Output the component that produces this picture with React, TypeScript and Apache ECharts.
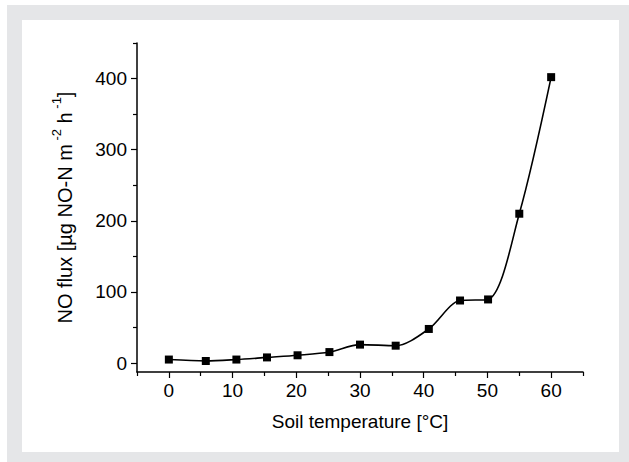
import React, { useEffect, useRef } from "react";
import * as echarts from "echarts";

// Soil temperature (°C) and NO flux (µg NO-N m^-2 h^-1)
const temperature = [0, 5.8, 10.6, 15.4, 20.2, 25.2, 30.0, 35.6, 40.8, 45.7, 50.1, 55.0, 60.0];
const noFlux = [5, 3, 5, 8, 11, 15.5, 26, 24.5, 48, 88, 89.5, 210, 402];

const xMajor = [0, 10, 20, 30, 40, 50, 60];
const xMinor = [-5, 5, 15, 25, 35, 45, 55, 65];
const yMajor = [0, 100, 200, 300, 400];
const yMinor = [50, 150, 250, 350, 450];

const FONT = "'Liberation Sans', Arial, Helvetica, sans-serif";
const INK = "#000000";

export default function App() {
  const ref = useRef<HTMLDivElement>(null);

  useEffect(() => {
    document.body.style.margin = "0";
    if (!ref.current) return;
    const chart = echarts.init(ref.current, null, { renderer: "svg" });

    const baseX = {
      type: "value" as const,
      min: -5,
      max: 65,
      position: "bottom" as const,
      splitLine: { show: false },
    };
    const baseY = {
      type: "value" as const,
      min: -12.5,
      max: 450,
      position: "left" as const,
      splitLine: { show: false },
    };

    chart.setOption({
      animation: false,
      backgroundColor: "transparent",
      grid: { left: 137, top: 43, width: 446, height: 329, containLabel: false },
      xAxis: [
        {
          ...baseX,
          name: "Soil temperature [°C]",
          nameLocation: "middle",
          nameGap: 40,
          nameTextStyle: { fontFamily: FONT, fontSize: 19, color: INK },
          axisLine: { show: true, onZero: false, lineStyle: { color: INK, width: 1.5 } },
          axisTick: { show: true, inside: false, length: 6, customValues: xMajor, lineStyle: { color: INK, width: 1.2 } },
          axisLabel: { show: true, customValues: xMajor, margin: 9, fontFamily: FONT, fontSize: 19, color: INK },
        },
        {
          ...baseX,
          axisLine: { show: false, onZero: false },
          axisTick: { show: true, inside: false, length: 4, customValues: xMinor, lineStyle: { color: INK, width: 1.2 } },
          axisLabel: { show: false },
        },
      ],
      yAxis: [
        {
          ...baseY,
          name: "{t|NO flux [µg NO-N m}{s| -2}{t| h}{s| -1}{t|]}",
          nameLocation: "middle",
          nameGap: 62,
          nameRotate: 90,
          nameTextStyle: {
            fontFamily: FONT,
            fontSize: 20,
            color: INK,
            rich: {
              t: { fontFamily: FONT, fontSize: 20, color: INK, verticalAlign: "bottom", lineHeight: 25 },
              s: { fontFamily: FONT, fontSize: 13, color: INK, verticalAlign: "top", lineHeight: 25 },
            },
          },
          axisLine: { show: true, onZero: false, lineStyle: { color: INK, width: 1.5 } },
          axisTick: { show: true, inside: false, length: 6, customValues: yMajor, lineStyle: { color: INK, width: 1.2 } },
          axisLabel: { show: true, customValues: yMajor, margin: 10, fontFamily: FONT, fontSize: 19, color: INK },
        },
        {
          ...baseY,
          axisLine: { show: false, onZero: false },
          axisTick: { show: true, inside: false, length: 4, customValues: yMinor, lineStyle: { color: INK, width: 1.2 } },
          axisLabel: { show: false },
        },
      ],
      series: [
        {
          type: "line",
          xAxisIndex: 0,
          yAxisIndex: 0,
          data: temperature.map((t, i) => [t, noFlux[i]]),
          smooth: 0.3,
          symbol: "rect",
          symbolSize: 8,
          showAllSymbol: true,
          lineStyle: { color: INK, width: 1.6 },
          itemStyle: { color: INK, borderWidth: 0 },
          z: 3,
        },
      ],
    });

    return () => chart.dispose();
  }, []);

  return (
    <div style={{ position: "relative", width: 629, height: 462, background: "#ffffff", overflow: "hidden" }}>
      <div style={{ position: "absolute", left: 7, top: 5, width: 622, height: 457, background: "#e5e6e8" }} />
      <div style={{ position: "absolute", left: 22, top: 20, width: 597, height: 432, background: "#ffffff" }} />
      <div ref={ref} style={{ position: "absolute", left: 0, top: 0, width: 629, height: 462 }} />
    </div>
  );
}
